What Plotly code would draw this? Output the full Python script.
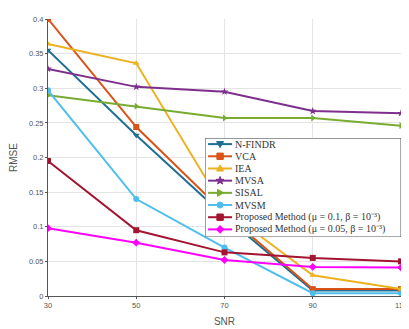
import math
import plotly.graph_objects as go

snr = [30, 50, 70, 90, 110]
nfindr = [0.355, 0.232, 0.115, 0.008, 0.008]
vca = [0.400, 0.244, 0.120, 0.010, 0.010]
iea = [0.364, 0.336, 0.125, 0.030, 0.010]
mvsa = [0.328, 0.302, 0.295, 0.267, 0.264]
sisal = [0.290, 0.274, 0.257, 0.257, 0.246]
mvsm = [0.297, 0.140, 0.070, 0.004, 0.004]
prop1 = [0.195, 0.095, 0.063, 0.055, 0.050]
prop2 = [0.098, 0.077, 0.052, 0.042, 0.041]

names = ["N-FINDR", "VCA", "IEA", "MVSA", "SISAL", "MVSM",
         "Proposed Method (μ = 0.1, β = 10⁻³)",
         "Proposed Method (μ = 0.05, β = 10⁻³)"]
series = [nfindr, vca, iea, mvsa, sisal, mvsm, prop1, prop2]
colors = ["#1f6f93", "#D95319", "#EDB120", "#7E2F8E", "#77AC30", "#4DBEEE", "#A2142F", "#FF00FF"]
symbols = ["triangle-down", "square", "triangle-up", "star", "triangle-right", "circle", "square", "diamond"]

yticks = [0, 0.05, 0.1, 0.15, 0.2, 0.25, 0.3, 0.35, 0.4]
ytext = ["0", "0.05", "0.1", "0.15", "0.2", "0.25", "0.3", "0.35", "0.4"]

fig = go.Figure()
for n, s, c, m in zip(names, series, colors, symbols):
    fig.add_trace(go.Scatter(x=snr, y=s, mode="lines+markers", name=n, showlegend=False,
                             line=dict(color=c, width=2),
                             marker=dict(symbol=m, size=6, color=c)))


def marker_path(sym, x, y, r=3.2):
    if sym == "square":
        return f"M{x-r},{y-r}H{x+r}V{y+r}H{x-r}Z"
    if sym == "triangle-down":
        return f"M{x-r*1.1},{y-r*0.8}L{x+r*1.1},{y-r*0.8}L{x},{y+r*1.1}Z"
    if sym == "triangle-up":
        return f"M{x-r*1.1},{y+r*0.8}L{x+r*1.1},{y+r*0.8}L{x},{y-r*1.1}Z"
    if sym == "triangle-right":
        return f"M{x-r*0.8},{y-r*1.1}L{x-r*0.8},{y+r*1.1}L{x+r*1.1},{y}Z"
    if sym == "diamond":
        return f"M{x},{y-r*1.2}L{x+r*1.2},{y}L{x},{y+r*1.2}L{x-r*1.2},{y}Z"
    if sym == "star":
        pts = []
        for k in range(10):
            rr = r * 1.3 if k % 2 == 0 else r * 0.55
            a = -math.pi / 2 + k * math.pi / 5
            pts.append(f"{x + rr*math.cos(a):.2f},{y + rr*math.sin(a):.2f}")
        return "M" + "L".join(pts) + "Z"
    return None


# compact legend drawn in the top shape layer, on an auxiliary axis in pixel units
box_w, box_h = 196, 99
fig.add_shape(type="rect", xref="x2", yref="y2", x0=0, x1=box_w, y0=0, y1=box_h,
              line=dict(color="#555", width=1), fillcolor="white", layer="above")
row_h = 12.2
for i, (n, c, m) in enumerate(zip(names, colors, symbols)):
    yy = 6 + row_h * i
    fig.add_shape(type="line", xref="x2", yref="y2", x0=3, x1=27, y0=yy, y1=yy,
                  line=dict(color=c, width=2), layer="above")
    p = marker_path(m, 15, yy)
    if p is None:
        fig.add_shape(type="circle", xref="x2", yref="y2", x0=12, x1=18, y0=yy - 3, y1=yy + 3,
                      line=dict(color=c, width=1), fillcolor=c, layer="above")
    else:
        fig.add_shape(type="path", xref="x2", yref="y2", path=p,
                      line=dict(color=c, width=1), fillcolor=c, layer="above")
    fig.add_annotation(x=28, y=yy, xref="x2", yref="y2", text=n, showarrow=False,
                       xanchor="left", yanchor="middle",
                       font=dict(family="Liberation Serif", size=10, color="#333"))

fig.update_layout(
    width=401, height=321,
    margin=dict(l=40, r=8, t=11, b=33),
    paper_bgcolor="white", plot_bgcolor="white",
    font=dict(family="Liberation Sans", size=7.5, color="#555"),
    xaxis=dict(range=[30, 110], tickvals=snr, ticktext=[str(v) for v in snr],
               showgrid=True, gridcolor="#e4e4e4", gridwidth=1, automargin=False,
               showline=True, linecolor="#555", linewidth=1, mirror=False,
               ticks="outside", ticklen=2, tickcolor="#555", zeroline=False,
               title=dict(text="SNR", font=dict(size=10, color="#555"), standoff=8)),
    yaxis=dict(range=[0, 0.4], tickvals=yticks, ticktext=ytext,
               showgrid=True, gridcolor="#e4e4e4", gridwidth=1, automargin=False,
               showline=True, linecolor="#555", linewidth=1, mirror=False,
               ticks="outside", ticklen=2, tickcolor="#555", zeroline=False,
               title=dict(text="RMSE", font=dict(size=10, color="#555"), standoff=14)),
    xaxis2=dict(domain=[0.445, 1.0], range=[0, box_w], anchor="y2", visible=False, fixedrange=True),
    yaxis2=dict(domain=[0.213, 0.570], range=[box_h, 0], anchor="x2", visible=False, fixedrange=True),
    showlegend=False,
)

fig.write_html("out.html")
